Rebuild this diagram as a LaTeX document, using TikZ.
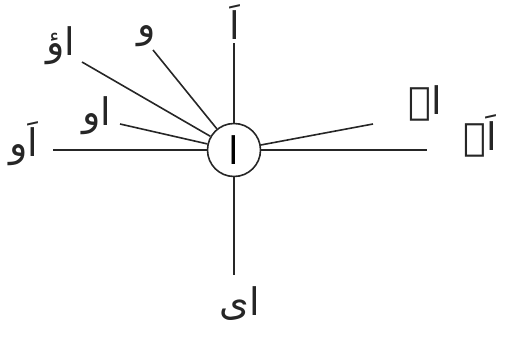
\documentclass[tikz,border=0pt]{standalone}
\usepackage{fontspec}
\newfontfamily\urdu[Script=Arabic]{DejaVu Sans}
\TeXXeTstate=1
\begin{document}
\begin{tikzpicture}[x=1pt,y=-1pt,
  lab/.style={font=\urdu\fontsize{38}{40}\selectfont, inner sep=0pt, text=black!85},
  spoke/.style={line width=1.6pt, draw=black!85}]
\useasboundingbox (0,0) rectangle (518,339);
\node[circle, draw=black!85, line width=1.6pt, minimum size=53pt, inner sep=0pt,
  font=\urdu\fontsize{38}{40}\selectfont] (c) at (234,150) {\beginR ا\endR};
% end points of the spokes
\coordinate (eT) at (234,43);
\coordinate (eB) at (234,275);
\coordinate (eL) at (53,150);
\coordinate (eO) at (120,124);
\coordinate (eU) at (82,62);
\coordinate (eW) at (153,50);
\coordinate (eE) at (373,124);
\coordinate (eR) at (427,150);
\foreach \e in {eT,eB,eL,eO,eU,eW,eE,eR} \draw[spoke] (c) -- (\e);
% labels
\node[lab] (lT) at (235,22) {\beginR اَ\endR};
\node[lab] (lB) at (240,304) {\beginR ای\endR};
\node[lab] (lL) at (24,144) {\beginR اَو\endR};
\node[lab] (lO) at (97,116) {\beginR او\endR};
\node[lab] (lU) at (61,46) {\beginR اؤ\endR};
\node[lab] (lW) at (147,36) {\beginR و\endR};
\node[lab] (lE) at (425,103) {\beginR اے\endR};
\node[lab] (lR) at (480,136) {\beginR اَے\endR};
\end{tikzpicture}
\end{document}
